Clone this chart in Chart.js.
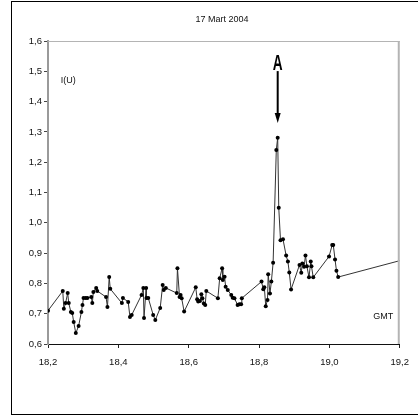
<!DOCTYPE html>
<html>
<head>
<meta charset="utf-8">
<script src="https://cdn.jsdelivr.net/npm/chart.js@4.4.1/dist/chart.umd.min.js"></script>
<style>
  html, body { margin: 0; padding: 0; background: #fff; }
  canvas { display: block; }
</style>
</head>
<body>
<canvas id="chart" width="418" height="416"></canvas>
<script>
// GMT hours (decimal) and intensity I(U)
const times = [
  18.200, 18.242, 18.245, 18.250, 18.256, 18.259, 18.265, 18.269, 18.273, 18.279,
  18.287, 18.295, 18.298, 18.301, 18.307, 18.312, 18.323, 18.326, 18.329, 18.337,
  18.340, 18.365, 18.369, 18.374, 18.377, 18.410, 18.413, 18.428, 18.433, 18.438,
  18.466, 18.471, 18.473, 18.479, 18.480, 18.485, 18.499, 18.505, 18.519, 18.526,
  18.529, 18.535, 18.566, 18.568, 18.574, 18.577, 18.580, 18.587, 18.620, 18.624,
  18.627, 18.632, 18.636, 18.639, 18.643, 18.647, 18.650, 18.683, 18.688, 18.695,
  18.697, 18.702, 18.705, 18.711, 18.721, 18.725, 18.730, 18.739, 18.744, 18.749,
  18.751, 18.807, 18.812, 18.815, 18.819, 18.824, 18.826, 18.831, 18.835, 18.840,
  18.849, 18.853, 18.856, 18.861, 18.868, 18.877, 18.882, 18.886, 18.891, 18.915,
  18.920, 18.923, 18.928, 18.932, 18.936, 18.942, 18.947, 18.949, 18.954, 18.999,
  19.008, 19.011, 19.016, 19.020, 19.025, 19.200
];
const intensity = [
  0.710, 0.775, 0.716, 0.735, 0.768, 0.735, 0.706, 0.702, 0.673, 0.636,
  0.659, 0.706, 0.729, 0.752, 0.752, 0.752, 0.755, 0.735, 0.772, 0.785,
  0.775, 0.755, 0.722, 0.821, 0.782, 0.735, 0.752, 0.739, 0.689, 0.696,
  0.762, 0.785, 0.686, 0.785, 0.752, 0.752, 0.696, 0.679, 0.719, 0.795,
  0.778, 0.785, 0.768, 0.850, 0.755, 0.762, 0.751, 0.707, 0.787, 0.748,
  0.740, 0.742, 0.764, 0.751, 0.734, 0.729, 0.775, 0.751, 0.817, 0.850,
  0.811, 0.822, 0.789, 0.778, 0.762, 0.753, 0.751, 0.729, 0.731, 0.731,
  0.751, 0.806, 0.781, 0.787, 0.725, 0.745, 0.830, 0.767, 0.806, 0.868,
  1.240, 1.281, 1.050, 0.942, 0.946, 0.892, 0.872, 0.836, 0.780, 0.861,
  0.835, 0.866, 0.855, 0.892, 0.857, 0.820, 0.872, 0.857, 0.820, 0.889,
  0.927, 0.927, 0.879, 0.842, 0.821, 0.875
];

// axis ranges / labels
const xRange = [18.2, 19.2];
const yRange = [0.6, 1.6];
const title = '17 Mart 2004';
const yLabel = 'I(U)';
const xLabel = 'GMT';
const eventLabel = 'A';

const fmt = v => v.toFixed(1).replace('.', ',');

Chart.defaults.font.family = '"Liberation Sans", Arial, sans-serif';
Chart.defaults.font.size = 9.5;
Chart.defaults.color = '#111';

// frame, title, labels and the arrow pointing to the peak
const decor = {
  id: 'decor',
  beforeDraw(chart) {
    const c = chart.ctx;
    c.save();
    c.fillStyle = '#fff';
    c.fillRect(0, 0, chart.width, chart.height);
    c.strokeStyle = '#000';
    c.lineWidth = 1;
    c.strokeRect(11.5, 1.5, 460, 413);
    c.restore();
  },
  afterDraw(chart) {
    const c = chart.ctx;
    const a = chart.chartArea;
    const xs = chart.scales.x, ys = chart.scales.y;
    c.save();
    // plot area border (top, right)
    c.strokeStyle = '#b4b4b4';
    c.lineWidth = 1;
    c.beginPath();
    c.moveTo(a.left, a.top + 0.5);
    c.lineTo(a.right, a.top + 0.5);
    c.stroke();
    c.lineWidth = 2;
    c.beginPath();
    c.moveTo(a.right - 1, a.top);
    c.lineTo(a.right - 1, a.bottom);
    c.stroke();

    c.fillStyle = '#111';
    c.font = '9px "Liberation Sans", Arial, sans-serif';
    c.textAlign = 'center';
    c.textBaseline = 'middle';
    c.fillText(title, 222, 20);

    c.textAlign = 'left';
    c.fillText(yLabel, xs.getPixelForValue(18.236), ys.getPixelForValue(1.471));
    c.fillText(xLabel, xs.getPixelForValue(19.125), ys.getPixelForValue(0.692));

    // "A" with arrow
    const px = xs.getPixelForValue(18.853);
    const aBottom = ys.getPixelForValue(1.504);
    c.save();
    c.translate(px, aBottom);
    c.scale(0.62, 1);
    c.fillStyle = '#000';
    c.font = 'bold 22px "Liberation Sans", Arial, sans-serif';
    c.textAlign = 'center';
    c.textBaseline = 'alphabetic';
    c.fillText(eventLabel, 0, 0);
    c.restore();

    const tip = ys.getPixelForValue(1.329);
    const headTop = ys.getPixelForValue(1.362);
    c.strokeStyle = '#000';
    c.fillStyle = '#000';
    c.lineWidth = 2;
    c.beginPath();
    c.moveTo(px, aBottom + 1);
    c.lineTo(px, headTop);
    c.stroke();
    c.beginPath();
    c.moveTo(px - 3, headTop);
    c.lineTo(px + 3, headTop);
    c.lineTo(px, tip);
    c.closePath();
    c.fill();
    c.restore();
  }
};

new Chart(document.getElementById('chart'), {
  type: 'line',
  data: {
    datasets: [{
      data: times.map((t, i) => ({ x: t, y: intensity[i] })),
      borderColor: '#333',
      borderWidth: 1,
      pointRadius: ctx => ctx.dataIndex === times.length - 1 ? 0 : 2,
      pointBackgroundColor: '#000',
      pointBorderWidth: 0,
      tension: 0
    }]
  },
  options: {
    responsive: false,
    animation: false,
    layout: { padding: { left: 0, top: 41, right: 13, bottom: 0 } },
    plugins: {
      legend: { display: false },
      tooltip: { enabled: false },
      title: { display: false }
    },
    scales: {
      x: {
        type: 'linear',
        min: xRange[0],
        max: xRange[1],
        afterFit: s => { s.height = 72; },
        ticks: { stepSize: 0.2, padding: 9, callback: fmt, maxRotation: 0 },
        grid: { drawOnChartArea: false, drawTicks: true, tickLength: 4, color: '#222' },
        border: { color: '#111', width: 1 }
      },
      y: {
        min: yRange[0],
        max: yRange[1],
        afterFit: s => { s.width = 48; },
        ticks: { stepSize: 0.1, padding: 2, callback: fmt },
        grid: { drawOnChartArea: false, drawTicks: true, tickLength: 4, color: '#444' },
        border: { color: '#9a9a9a', width: 2 }
      }
    }
  },
  plugins: [decor]
});
</script>
</body>
</html>
